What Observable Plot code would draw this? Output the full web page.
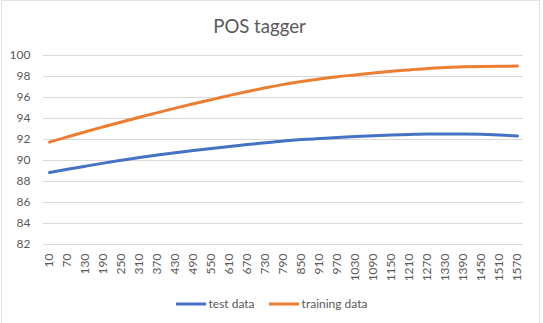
<!DOCTYPE html>
<html>
<head>
<meta charset="utf-8">
<script src="https://cdn.jsdelivr.net/npm/d3@7"></script>
<script src="https://cdn.jsdelivr.net/npm/@observablehq/plot@0.6"></script>
<style>
  html, body { margin: 0; padding: 0; background: #fff; }
  #chart {
    position: relative; width: 543px; height: 323px; box-sizing: border-box;
    font-family: Lato, "Open Sans", sans-serif; color: #595959; overflow: hidden;
  }
  #frame {
    position: absolute; left: 1px; top: 0; width: 539px; height: 340px;
    border: 1px solid #e3e3e3; box-sizing: border-box;
  }
  #title {
    position: absolute; left: 0; top: 14px; width: 519px; text-align: center;
    font-size: 18.6px; line-height: 24px; color: #595959;
  }
  #plot { position: absolute; left: 0; top: 45px; }
  #legend {
    position: absolute; left: 0; top: 296px; width: 543px; display: flex;
    justify-content: center; align-items: center; font-size: 12px; gap: 14px;
  }
  #legend .item { display: flex; align-items: center; gap: 3px; }
</style>
</head>
<body>
<div id="chart">
  <div id="frame"></div>
  <div id="title">POS tagger</div>
  <div id="plot"></div>
  <div id="legend"></div>
</div>
<script>
// Training set size (category labels along the x axis)
const sizes = ["10","70","130","190","250","310","370","430","490","550","610","670","730","790",
  "850","910","970","1030","1090","1150","1210","1270","1330","1390","1450","1510","1570"];

// Tagging accuracy (%) on held-out test data
const testData = [88.85, 89.16, 89.46, 89.75, 90.02, 90.28, 90.52, 90.74, 90.95, 91.15, 91.34,
  91.52, 91.69, 91.86, 91.99, 92.09, 92.19, 92.28, 92.36, 92.43, 92.48, 92.52, 92.53, 92.52,
  92.49, 92.43, 92.34];

// Tagging accuracy (%) on the training data itself
const trainingData = [91.75, 92.25, 92.74, 93.21, 93.67, 94.12, 94.56, 94.99, 95.40, 95.80,
  96.20, 96.57, 96.92, 97.25, 97.52, 97.77, 97.98, 98.15, 98.33, 98.49, 98.63, 98.77, 98.86,
  98.92, 98.96, 98.98, 98.99];

const yTicks = [82, 84, 86, 88, 90, 92, 94, 96, 98, 100];

const seriesNames = ["test data", "training data"];
const seriesColors = ["#4472C4", "#ED7D31"];

const rows = [];
sizes.forEach((s, i) => {
  rows.push({size: s, value: testData[i], series: seriesNames[0]});
  rows.push({size: s, value: trainingData[i], series: seriesNames[1]});
});

const plot = Plot.plot({
  width: 543,
  height: 239,
  marginLeft: 43,
  marginRight: 20,
  marginTop: 10,
  marginBottom: 40,
  style: {fontFamily: "Lato, 'Open Sans', sans-serif", fontSize: "12px", color: "#595959", background: "transparent"},
  x: {type: "point", domain: sizes, padding: 0},
  y: {domain: [82, 100]},
  color: {domain: seriesNames, range: seriesColors},
  marks: [
    Plot.gridY(yTicks, {stroke: "#d9d9d9", strokeOpacity: 1, strokeWidth: 1}),
    Plot.axisY(yTicks, {tickSize: 0, tickPadding: 13, label: null, fill: "#595959"}),
    Plot.axisX(sizes, {tickSize: 0, tickPadding: 9, tickRotate: -90, label: null, fill: "#595959"}),
    Plot.line(rows, {x: "size", y: "value", z: "series", stroke: "series",
      strokeWidth: 3, curve: "monotone-x", strokeLinecap: "round"})
  ]
});
document.getElementById("plot").appendChild(plot);

// Line-swatch legend below the chart
const legend = d3.select("#legend");
seriesNames.forEach((name, i) => {
  const item = legend.append("div").attr("class", "item");
  item.append("svg").attr("width", 30).attr("height", 6)
    .append("line").attr("x1", 0).attr("x2", 30).attr("y1", 3).attr("y2", 3)
    .attr("stroke", seriesColors[i]).attr("stroke-width", 3);
  item.append("span").text(name);
});
</script>
</body>
</html>
